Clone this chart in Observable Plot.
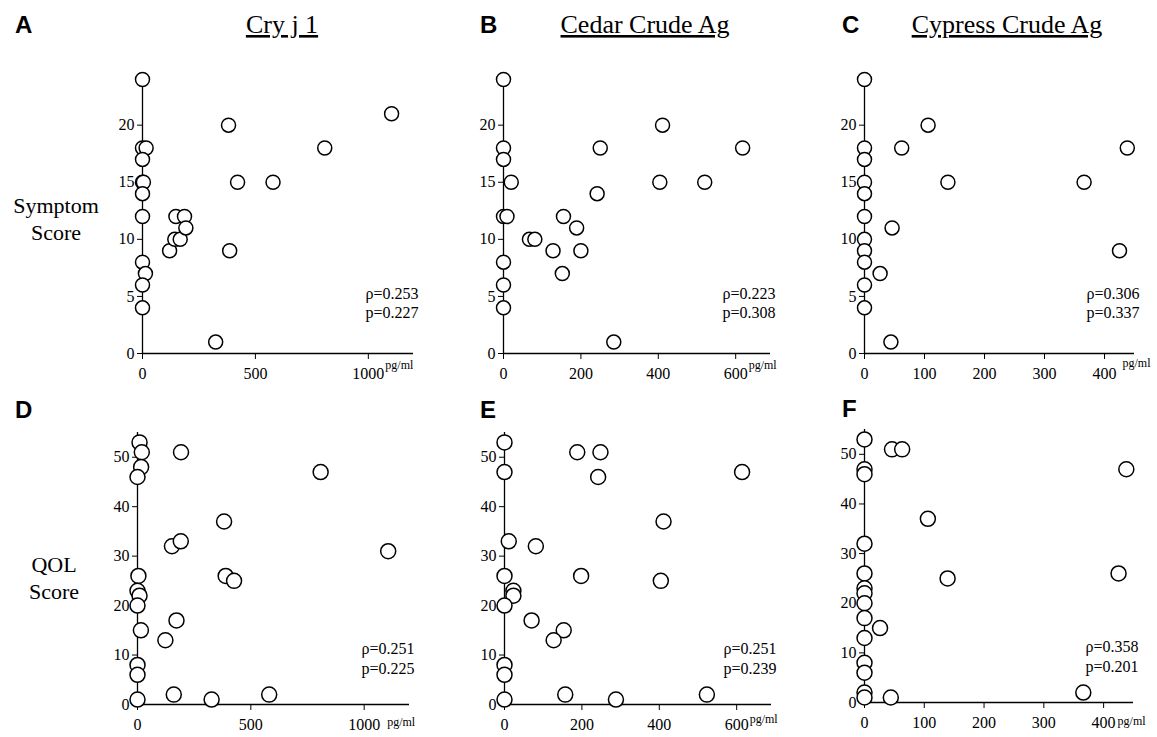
<!DOCTYPE html>
<html>
<head>
<meta charset="utf-8">
<script src="https://cdn.jsdelivr.net/npm/d3@7"></script>
<script src="https://cdn.jsdelivr.net/npm/@observablehq/plot@0.6"></script>
<style>
  html, body { margin: 0; padding: 0; background: #fff; }
  #chart { position: relative; width: 1157px; height: 737px; background: #fff; overflow: hidden; }
  #chart svg { position: absolute; }
</style>
</head>
<body>
<div id="chart"></div>
<script>
// ---------- data ----------
const antigens = ["Cry j 1", "Cedar Crude Ag", "Cypress Crude Ag"];
const panelLetters = ["A", "B", "C", "D", "E", "F"];
const rowLabels = [["Symptom", "Score"], ["QOL", "Score"]];
const unitLabel = "pg/ml";

// [concentration (pg/ml), score]
const symptomCryj1 = [
  [0, 24], [0, 18], [16, 18], [0, 17], [0, 15], [4, 15], [0, 14], [0, 12], [0, 8], [13, 7],
  [0, 6], [0, 4], [120, 9], [148, 12], [186, 12], [143, 10], [167, 10], [192, 11],
  [324, 1], [381, 20], [386, 9], [421, 15], [578, 15], [807, 18], [1103, 21]
];
const symptomCedar = [
  [0, 24], [0, 18], [0, 17], [20, 15], [0, 12], [9, 12], [67, 10], [81, 10], [128, 9],
  [155, 12], [152, 7], [189, 11], [200, 9], [242, 14], [250, 18], [285, 1], [411, 20],
  [404, 15], [520, 15], [618, 18], [0, 8], [0, 6], [0, 4]
];
const symptomCypress = [
  [0, 24], [0, 18], [0, 17], [0, 15], [0, 14], [0, 12], [0, 10], [0, 9], [0, 8], [0, 6],
  [0, 4], [26, 7], [46, 11], [44, 1], [62, 18], [106, 20], [139, 15], [366, 15], [425, 9], [438, 18]
];
const qolCryj1 = [
  [9, 53], [19, 51], [16, 48], [0, 46], [192, 51], [808, 47], [382, 37], [152, 32], [191, 33],
  [1106, 31], [389, 26], [426, 25], [4, 26], [0, 23], [9, 22], [0, 20], [15, 15], [172, 17],
  [123, 13], [0, 8], [0, 6], [160, 2], [327, 1], [581, 2], [0, 1]
];
const qolCedar = [
  [0, 53], [0, 47], [188, 51], [248, 51], [242, 46], [614, 47], [411, 37], [11, 33], [81, 32],
  [0, 26], [198, 26], [404, 25], [23, 23], [23, 22], [0, 20], [70, 17], [153, 15], [127, 13],
  [0, 8], [0, 6], [157, 2], [288, 1], [523, 2], [0, 1]
];
const qolCypress = [
  [0, 53], [0, 47], [0, 46], [46, 51], [63, 51], [438, 47], [106, 37], [0, 32], [0, 26],
  [139, 25], [425, 26], [0, 23], [0, 22], [0, 20], [0, 17], [26, 15], [0, 13], [0, 8], [0, 6],
  [0, 2], [0, 1], [44, 1], [366, 2]
];

const rhoValues = [0.253, 0.223, 0.306, 0.251, 0.251, 0.358];
const pValues = [0.227, 0.308, 0.337, 0.225, 0.239, 0.201];

const xTicksByAntigen = [[0, 500, 1000], [0, 200, 400, 600], [0, 100, 200, 300, 400]];
const xMaxByAntigen = [1200, 690, 450];
const yTicksByRow = [[0, 5, 10, 15, 20], [0, 10, 20, 30, 40, 50]];
const yMaxByRow = [24, 55];

const seriesByPanel = [symptomCryj1, symptomCedar, symptomCypress, qolCryj1, qolCedar, qolCypress];

// ---------- layout (pixel geometry only) ----------
const layout = [
  {ox: 142, oy: 353, xEnd: 413, yTop: 79, r: 7, uDx: 17, uDy: 12},
  {ox: 503, oy: 353, xEnd: 770, yTop: 79, r: 7, uDx: 13, uDy: 12},
  {ox: 864, oy: 353, xEnd: 1134, yTop: 79, r: 7, uDx: 18, uDy: 10},
  {ox: 137, oy: 704, xEnd: 409, yTop: 432, r: 7.5, uDx: 23, uDy: 18},
  {ox: 504, oy: 704, xEnd: 771, yTop: 432, r: 7.5, uDx: 13, uDy: 15},
  {ox: 864, oy: 702, xEnd: 1133, yTop: 429, r: 7.5, uDx: 14, uDy: 19}
];

const chart = document.getElementById("chart");
const serif = "'Liberation Serif', 'Times New Roman', serif";
const fmt = d => `${d}`;

seriesByPanel.forEach((data, i) => {
  const row = Math.floor(i / 3), col = i % 3;
  const L = layout[i];
  const mL = 90, mR = 50, mT = 20, mB = 30;
  const left = L.ox - mL, top = L.yTop - mT;
  const width = L.xEnd + mR - left, height = L.oy + mB - top;
  const xTicks = xTicksByAntigen[col];
  const isBottom = row === 1;
  const statDy = isBottom ? [-51, -31] : [-55, -36];
  const svg = Plot.plot({
    width, height,
    marginLeft: mL, marginRight: mR, marginTop: mT, marginBottom: mB,
    style: {background: "transparent", overflow: "visible", fontFamily: serif, fontSize: "16px", color: "#000"},
    x: {domain: [0, xMaxByAntigen[col]], ticks: xTicks, tickSize: 6, tickPadding: 8, tickFormat: fmt, label: null},
    y: {domain: [0, yMaxByRow[row]], ticks: yTicksByRow[row], tickSize: 5, tickPadding: 3, tickFormat: fmt, label: null},
    marks: [
      Plot.ruleX([0], {stroke: "#000", strokeWidth: 1.3}),
      Plot.ruleY([0], {stroke: "#000", strokeWidth: 1.3}),
      Plot.dot(data, {x: d => d[0], y: d => d[1], r: L.r, stroke: "#000", strokeWidth: 1.5, fill: "#fff"}),
      Plot.text([`ρ=${rhoValues[i].toFixed(3)}`], {text: d => d, frameAnchor: "bottom-right", textAnchor: "end", dx: 5, dy: statDy[0], fontSize: 16, fill: "#000"}),
      Plot.text([`p=${pValues[i].toFixed(3)}`], {text: d => d, frameAnchor: "bottom-right", textAnchor: "end", dx: 5, dy: statDy[1], fontSize: 16, fill: "#000"}),
      Plot.text([unitLabel], {text: d => d, x: xTicks[xTicks.length - 1], y: 0, textAnchor: "start", dx: L.uDx, dy: L.uDy, fontSize: 12, fill: "#000"})
    ]
  });
  svg.style.left = left + "px";
  svg.style.top = top + "px";
  chart.appendChild(svg);
});

// ---------- titles, panel letters, row labels ----------
const overlay = d3.create("svg")
  .attr("width", 1157).attr("height", 737)
  .style("left", "0px").style("top", "0px")
  .style("overflow", "visible").style("pointer-events", "none");

const titleX = [282, 645, 1007];
antigens.forEach((t, j) => {
  overlay.append("text")
    .attr("x", titleX[j]).attr("y", 33)
    .attr("text-anchor", "middle")
    .style("font-family", serif).style("font-size", "26px")
    .style("text-decoration", "underline")
    .text(t);
});

const letterPos = [[15, 33], [480, 33], [842, 33], [15, 418], [480, 418], [842, 417]];
panelLetters.forEach((l, i) => {
  overlay.append("text")
    .attr("x", letterPos[i][0]).attr("y", letterPos[i][1])
    .style("font-family", "'Liberation Sans', Arial, sans-serif")
    .style("font-weight", "bold").style("font-size", "24px")
    .text(l);
});

const rowLabelPos = [[56, [213, 240]], [54, [572, 599]]];
rowLabels.forEach((lines, r) => {
  lines.forEach((s, k) => {
    overlay.append("text")
      .attr("x", rowLabelPos[r][0]).attr("y", rowLabelPos[r][1][k])
      .attr("text-anchor", "middle")
      .style("font-family", serif).style("font-size", "22px")
      .text(s);
  });
});

chart.appendChild(overlay.node());
</script>
</body>
</html>
